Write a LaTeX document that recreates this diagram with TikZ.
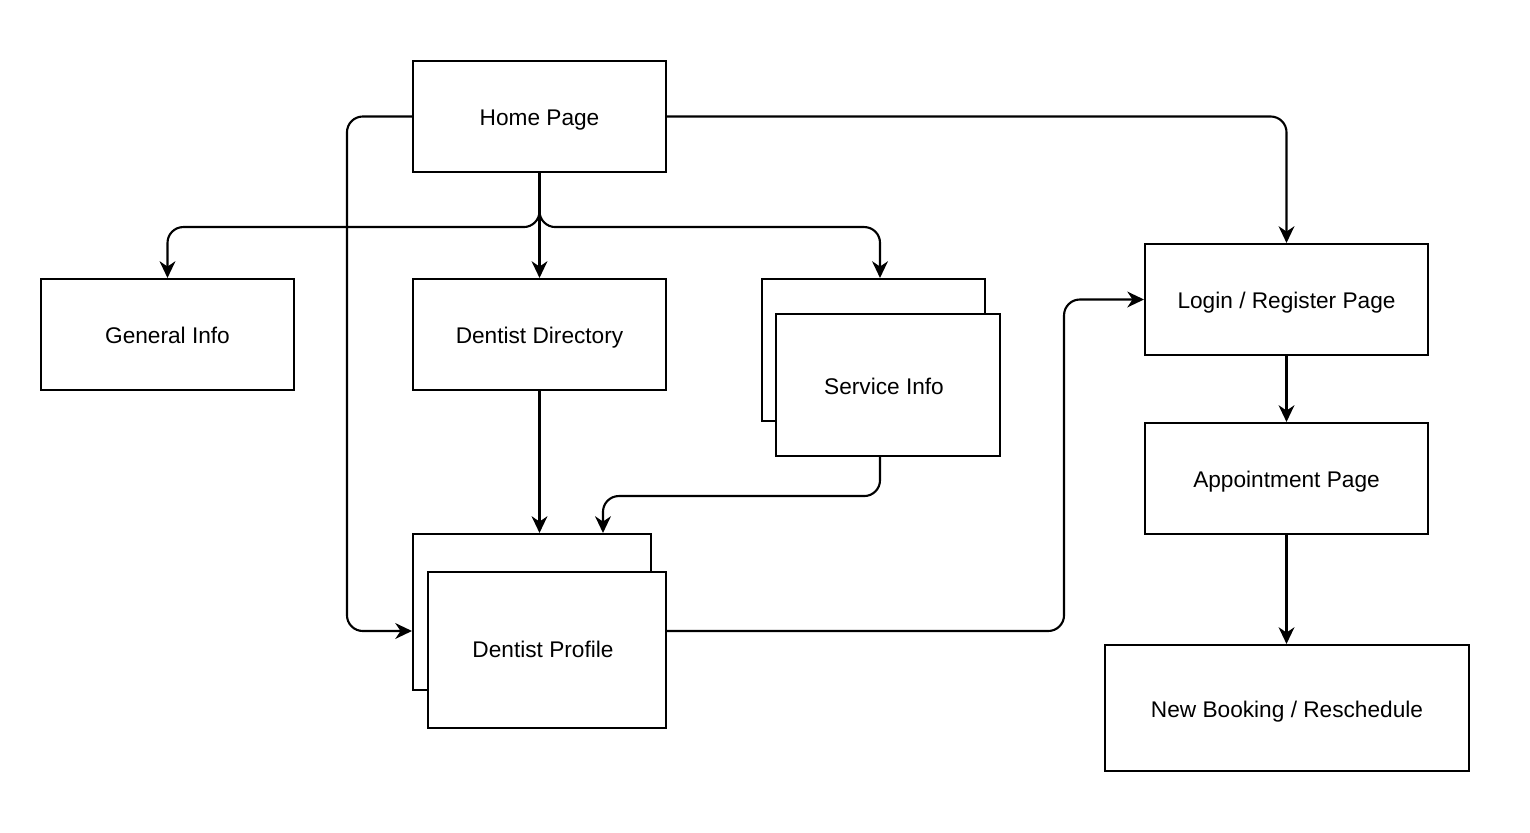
\documentclass[tikz,border=0pt]{standalone}
\usepackage{fontspec}
\setmainfont{Liberation Sans}
\usetikzlibrary{arrows.meta}
\begin{document}
\begin{tikzpicture}[x=0.02cm, y=-0.02cm,
  label text/.style={inner sep=0pt, text height=10.8pt, text depth=0pt,
    font=\fontsize{12.9}{15}\selectfont},
  box/.style={label text, draw=black, line width=1.2pt, fill=white},
  arr/.style={draw=black, line width=1.2pt, rounded corners=9pt,
    -{Stealth[length=9.5pt, width=9pt, inset=3pt]}}]
\useasboundingbox (0,0) rectangle (1530,832);

% pages
\node[box, minimum width=5.06cm, minimum height=2.22cm] (home) at (539.5,116.5) {Home Page};
\node[box, minimum width=5.06cm, minimum height=2.22cm] (gen) at (167.5,334.5) {General Info};
\node[box, minimum width=5.06cm, minimum height=2.22cm] (dir) at (539.5,334.5) {Dentist Directory};

% stacked pages
\node[box, minimum width=4.46cm, minimum height=2.84cm] (svcb) at (873.5,350) {};
\node[box, minimum width=4.48cm, minimum height=2.84cm] (svc) at (888,385) {};
\node[label text] (svct) at (884,385) {Service Info};

\node[box, minimum width=4.76cm, minimum height=3.12cm] (profb) at (532,612) {};
\node[box, minimum width=4.76cm, minimum height=3.12cm] (prof) at (547,650) {};
\node[label text] (proft) at (543,648) {Dentist Profile};

\node[box, minimum width=5.66cm, minimum height=2.22cm] (login) at (1286.5,299.5) {Login / Register Page};
\node[box, minimum width=5.66cm, minimum height=2.22cm] (appt) at (1286.5,478.5) {Appointment Page};
\node[box, minimum width=7.28cm, minimum height=2.52cm] (book) at (1287,708) {New Booking / Reschedule};

% connectors
\draw[arr] (home.south) -- ++(0,54) -| (gen.north);
\draw[arr] (home.south) -- (dir.north);
\draw[arr] (home.south) -- ++(0,54) -| ([xshift=0.13cm]svcb.north);
\draw[arr] (home.west) -- ++(-65,0) |- ([yshift=-0.38cm]profb.west);
\draw[arr] (home.east) -| (login.north);
\draw[arr] (dir.south) -- (dir.south |- profb.north);
\draw[arr] ([xshift=-0.16cm]svc.south) -- ++(0,39) -| ([xshift=1.42cm]profb.north);
\draw[arr] ([yshift=0.38cm]prof.east) -- ++(397,0) |- (login.west);
\draw[arr] (login.south) -- (appt.north);
\draw[arr] (appt.south) -- (appt.south |- book.north);
\end{tikzpicture}
\end{document}
